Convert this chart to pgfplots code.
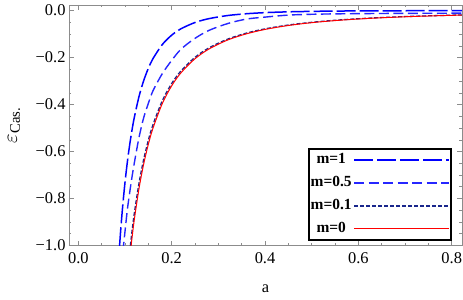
\documentclass[border=0pt]{standalone}
\usepackage{fontspec}
\setmainfont{Liberation Serif}
\usepackage{pgfplots}
\pgfplotsset{compat=1.18}
\definecolor{cA}{rgb}{0,0,1}
\definecolor{cB}{rgb}{0.15,0.15,1}
\definecolor{cC}{rgb}{0.1,0.15,0.55}
\definecolor{cD}{rgb}{1,0,0}
\definecolor{framegray}{rgb}{0.55,0.55,0.55}
\begin{document}
\begin{tikzpicture}
\begin{axis}[
  scale only axis, width=393bp, height=240.5bp,
  xmin=-0.02, xmax=0.822, ymin=-1.0, ymax=0.024,
  xtick={0,0.2,0.4,0.6,0.8}, xticklabels={0.0,0.2,0.4,0.6,0.8},
  ytick={-1,-0.8,-0.6,-0.4,-0.2,0}, yticklabels={−1.0,−0.8,−0.6,−0.4,−0.2,0.0},
  minor tick num=3,
  tick align=inside,
  major tick length=5bp, minor tick length=2.5bp,
  axis line style={framegray, line width=0.8bp},
  tick style={framegray, line width=0.6bp},
  tick label style={font=\fontsize{16.5}{18}\selectfont, black},
  xticklabel style={yshift=-4bp},
  every axis x label/.style={at={(axis description cs:0.5,-0.181)}, anchor=center},
  every axis y label/.style={at={(axis description cs:-0.14,0.5)}, anchor=center, rotate=90},
  xlabel={\fontsize{16.5}{18}\selectfont a},
  ylabel={\fontsize{21}{23}\selectfont $\varepsilon$\textsubscript{Cas.}},
  legend style={at={(0.9746,0.02)}, anchor=south east, draw=black, line width=1.6bp, fill=white,
    font=\bfseries\fontsize{15.5}{17}\selectfont, inner xsep=1bp, inner ysep=3bp,
    row sep=7bp, column sep=1bp, nodes={inner sep=1bp, text height=11bp, text depth=3bp}},
  legend plot pos=right,
  legend cell align=center,
  legend image code/.code={\draw[#1] (0bp,0bp) -- (88bp,0bp); \path (0bp,0bp) -- (95bp,0bp);},
]
\addplot[cA, line width=1.5bp, dash pattern=on 19bp off 4bp, smooth] coordinates {
(0.085,-1.1007) (0.09,-0.9546) (0.095,-0.8331) (0.10,-0.7311) (0.105,-0.6448) (0.11,-0.5714)
(0.115,-0.5083) (0.12,-0.4540) (0.13,-0.3657) (0.14,-0.2982) (0.15,-0.2456) (0.16,-0.2041)
(0.18,-0.1442) (0.20,-0.1044) (0.22,-0.0772) (0.25,-0.0505) (0.28,-0.0340) (0.32,-0.0208)
(0.36,-0.0132) (0.40,-0.0085) (0.45,-0.0051) (0.50,-0.0031) (0.55,-0.0019) (0.60,-0.0012)
(0.70,-0.0005) (0.83,-0.0002)};
\addlegendentry{m=1}
\addplot[cB, line width=1.4bp, dash pattern=on 10bp off 4.5bp, smooth] coordinates {
(0.09,-1.15) (0.095,-1.036) (0.10,-0.94) (0.105,-0.848) (0.11,-0.775) (0.115,-0.708)
(0.12,-0.648) (0.13,-0.54) (0.14,-0.456) (0.15,-0.395) (0.16,-0.341) (0.18,-0.268)
(0.20,-0.212) (0.22,-0.164) (0.25,-0.118) (0.28,-0.084) (0.32,-0.055) (0.36,-0.036)
(0.40,-0.0275) (0.45,-0.019) (0.50,-0.0155) (0.55,-0.0138) (0.60,-0.0128) (0.65,-0.0121)
(0.70,-0.0116) (0.75,-0.0112) (0.83,-0.0107)};
\addlegendentry{m=0.5}
\addplot[cC, line width=1.3bp, dash pattern=on 4bp off 2bp, smooth] coordinates {
(0.11,-1.0262) (0.115,-0.9389) (0.12,-0.8622) (0.13,-0.7347) (0.14,-0.6335) (0.15,-0.5518)
(0.16,-0.485) (0.18,-0.3832) (0.20,-0.3104) (0.22,-0.2566) (0.25,-0.1987) (0.28,-0.1584)
(0.32,-0.1213) (0.36,-0.0958) (0.40,-0.0776) (0.45,-0.0613) (0.50,-0.0497) (0.55,-0.0410)
(0.60,-0.0345) (0.65,-0.0294) (0.70,-0.0253) (0.75,-0.0221) (0.80,-0.0194) (0.83,-0.0180)};
\addlegendentry{m=0.1}
\addplot[cD, line width=1bp, smooth] coordinates {
(0.11,-1.0579) (0.115,-0.9679) (0.12,-0.8889) (0.13,-0.7574) (0.14,-0.6531) (0.15,-0.5689)
(0.16,-0.5) (0.18,-0.3951) (0.20,-0.32) (0.22,-0.2645) (0.25,-0.2048) (0.28,-0.1633)
(0.32,-0.125) (0.36,-0.0988) (0.40,-0.08) (0.45,-0.0632) (0.50,-0.0512) (0.55,-0.0423)
(0.60,-0.0356) (0.65,-0.0303) (0.70,-0.0261) (0.75,-0.0228) (0.80,-0.02) (0.83,-0.0186)};
\addlegendentry{m=0}
\end{axis}
\pgfresetboundingbox
\path[use as bounding box] (-69bp,-54.5bp) rectangle (394bp,245.5bp);
\end{tikzpicture}
\end{document}
